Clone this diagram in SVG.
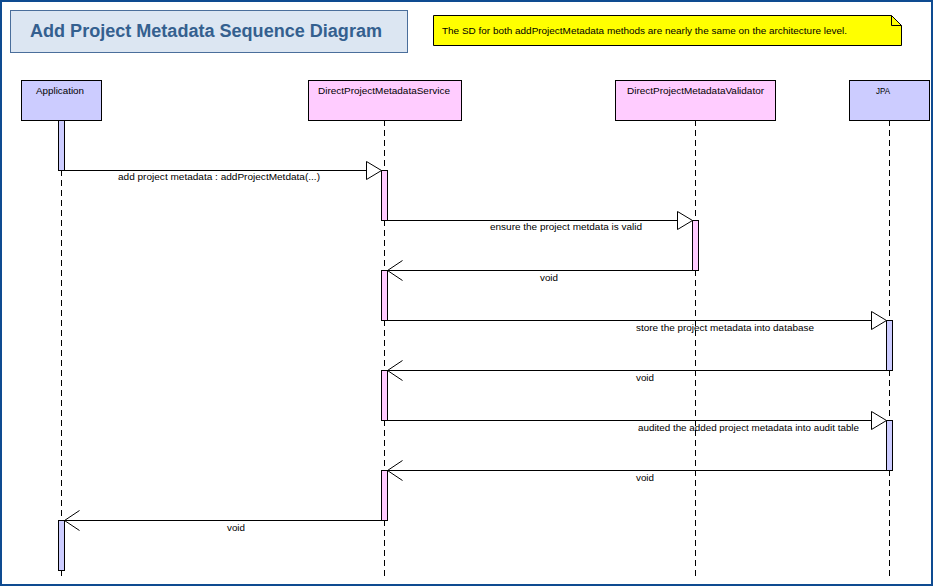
<svg xmlns="http://www.w3.org/2000/svg" width="934" height="586" viewBox="0 0 934 586">
<style>
.lbl{font-family:"Liberation Sans",Arial,sans-serif;font-size:9px;fill:#000}
.life{stroke:#000;stroke-width:1;stroke-dasharray:6,4;fill:none}
.actB{fill:#CCCCFF;stroke:#000;stroke-width:1}
.actP{fill:#FFCCFF;stroke:#000;stroke-width:1}
.msg{stroke:#000;stroke-width:1;fill:none}
.tri{fill:#fff;stroke:#000;stroke-width:1}
</style>
<rect x="0" y="0" width="934" height="586" fill="#fff"/>
<rect x="1" y="1" width="931" height="584" fill="none" stroke="#0E4B91" stroke-width="2"/>
<g id="title">
<rect x="10.5" y="10.5" width="397" height="42" fill="#DCE6F2" stroke="#4A6E9B" stroke-width="1"/>
<text x="30" y="37" font-family="'Liberation Sans',Arial,sans-serif" font-size="18" font-weight="bold" fill="#34608F" textLength="352" lengthAdjust="spacingAndGlyphs">Add Project Metadata Sequence Diagram</text>
</g>
<g id="note">
<path d="M433.5 15.5 H891.5 L901.5 25.5 V45.5 H433.5 Z" fill="#FFFF00" stroke="#000"/>
<path d="M891.5 15.5 V25.5 H901.5" fill="none" stroke="#000"/>
<text class="lbl" x="442" y="34" textLength="405" lengthAdjust="spacingAndGlyphs">The SD for both addProjectMetadata methods are nearly the same on the architecture level.</text>
</g>
<g id="lifelines">
<line class="life" x1="61.5" y1="120" x2="61.5" y2="578"/>
<line class="life" x1="384.5" y1="120" x2="384.5" y2="578"/>
<line class="life" x1="695.5" y1="120" x2="695.5" y2="578"/>
<line class="life" x1="889.5" y1="120" x2="889.5" y2="578"/>
</g>
<g id="Application">
<rect x="21.5" y="80.5" width="80" height="40" fill="#CCCCFF" stroke="#000"/>
<text class="lbl" x="36" y="94" textLength="48" lengthAdjust="spacingAndGlyphs">Application</text>
<rect class="actB" x="58.5" y="120.5" width="6" height="50"/>
<rect class="actB" x="58.5" y="520.5" width="6" height="50"/>
</g>
<g id="DirectProjectMetadataService">
<rect x="308.5" y="80.5" width="153" height="40" fill="#FFCCFF" stroke="#000"/>
<text class="lbl" x="318" y="94" textLength="132" lengthAdjust="spacingAndGlyphs">DirectProjectMetadataService</text>
<rect class="actP" x="381.5" y="170.5" width="6" height="50"/>
<rect class="actP" x="381.5" y="270.5" width="6" height="50"/>
<rect class="actP" x="381.5" y="370.5" width="6" height="50"/>
<rect class="actP" x="381.5" y="470.5" width="6" height="50"/>
</g>
<g id="DirectProjectMetadataValidator">
<rect x="615.5" y="80.5" width="160" height="40" fill="#FFCCFF" stroke="#000"/>
<text class="lbl" x="627" y="94" textLength="137" lengthAdjust="spacingAndGlyphs">DirectProjectMetadataValidator</text>
<rect class="actP" x="692.5" y="220.5" width="6" height="50"/>
</g>
<g id="JPA">
<rect x="849.5" y="80.5" width="80" height="40" fill="#CCCCFF" stroke="#000"/>
<text class="lbl" x="876" y="94" textLength="14" lengthAdjust="spacingAndGlyphs">JPA</text>
<rect class="actB" x="886.5" y="320.5" width="6" height="50"/>
<rect class="actB" x="886.5" y="420.5" width="6" height="50"/>
</g>
<g id="connectors">
<line class="msg" x1="64.5" y1="170.5" x2="366" y2="170.5"/>
<path class="tri" d="M366.5 161.5 L381.5 170.5 L366.5 179.5 Z"/>
<text class="lbl" x="118" y="180" textLength="202" lengthAdjust="spacingAndGlyphs">add project metadata : addProjectMetdata(...)</text>

<line class="msg" x1="387.5" y1="220.5" x2="677" y2="220.5"/>
<path class="tri" d="M677.5 211.5 L692.5 220.5 L677.5 229.5 Z"/>
<text class="lbl" x="490" y="230" textLength="152" lengthAdjust="spacingAndGlyphs">ensure the project metdata is valid</text>

<line class="msg" x1="692.5" y1="270.5" x2="387.5" y2="270.5"/>
<path class="msg" d="M402.5 260.5 L387.5 270.5 L402.5 280.5"/>
<text class="lbl" x="540" y="281" textLength="18" lengthAdjust="spacingAndGlyphs">void</text>

<line class="msg" x1="387.5" y1="320.5" x2="871" y2="320.5"/>
<path class="tri" d="M871.5 311.5 L886.5 320.5 L871.5 329.5 Z"/>
<text class="lbl" x="636" y="331" textLength="178" lengthAdjust="spacingAndGlyphs">store the project metadata into database</text>

<line class="msg" x1="886.5" y1="370.5" x2="387.5" y2="370.5"/>
<path class="msg" d="M402.5 360.5 L387.5 370.5 L402.5 380.5"/>
<text class="lbl" x="636" y="381" textLength="18" lengthAdjust="spacingAndGlyphs">void</text>

<line class="msg" x1="387.5" y1="420.5" x2="871" y2="420.5"/>
<path class="tri" d="M871.5 411.5 L886.5 420.5 L871.5 429.5 Z"/>
<text class="lbl" x="638" y="431" textLength="221" lengthAdjust="spacingAndGlyphs">audited the added project metadata into audit table</text>

<line class="msg" x1="886.5" y1="470.5" x2="387.5" y2="470.5"/>
<path class="msg" d="M402.5 460.5 L387.5 470.5 L402.5 480.5"/>
<text class="lbl" x="636" y="481" textLength="18" lengthAdjust="spacingAndGlyphs">void</text>

<line class="msg" x1="381.5" y1="520.5" x2="64.5" y2="520.5"/>
<path class="msg" d="M79.5 510.5 L64.5 520.5 L79.5 530.5"/>
<text class="lbl" x="227" y="531" textLength="18" lengthAdjust="spacingAndGlyphs">void</text>
</g>
</svg>
